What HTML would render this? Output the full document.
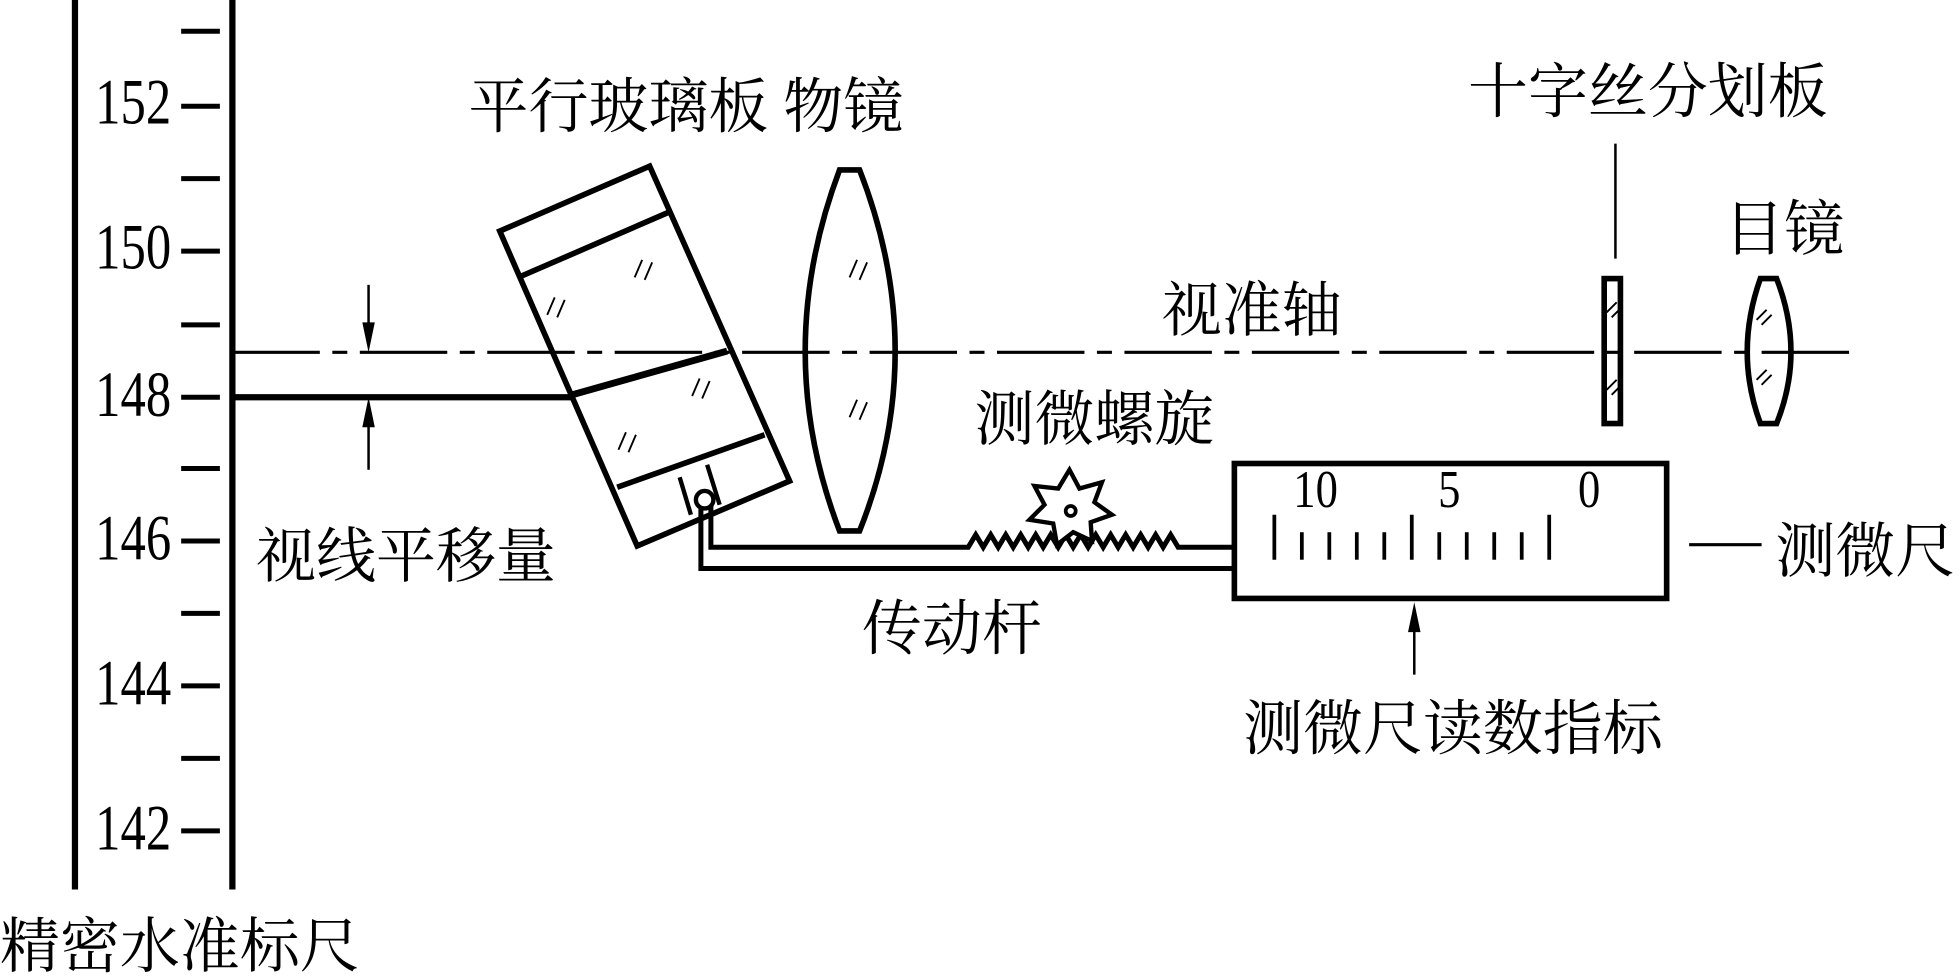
<!DOCTYPE html>
<html><head><meta charset="utf-8"><style>
html,body{margin:0;padding:0;background:#fff;}
svg{display:block;}
text{font-family:"Liberation Serif","Noto Serif CJK SC",serif;fill:#000;}
</style></head><body>
<svg width="1959" height="977" viewBox="0 0 1568 782" xmlns="http://www.w3.org/2000/svg">
<g stroke="#000" fill="none">
<line x1="60" y1="0" x2="60" y2="712" stroke-width="5"/>
<line x1="186" y1="0" x2="186" y2="712" stroke-width="5"/>
<g stroke-width="4">
<line x1="145" y1="25" x2="176" y2="25"/><line x1="145" y1="85" x2="176" y2="85"/>
<line x1="145" y1="143" x2="176" y2="143"/><line x1="145" y1="201" x2="176" y2="201"/>
<line x1="145" y1="260" x2="176" y2="260"/><line x1="145" y1="318" x2="176" y2="318"/>
<line x1="145" y1="375" x2="176" y2="375"/><line x1="145" y1="433" x2="176" y2="433"/>
<line x1="145" y1="491" x2="176" y2="491"/><line x1="145" y1="549" x2="176" y2="549"/>
<line x1="145" y1="607" x2="176" y2="607"/><line x1="145" y1="665" x2="176" y2="665"/>
</g>
<line x1="186" y1="282" x2="1482" y2="282" stroke-width="2.5" stroke-dasharray="70,10,12,10"/>
<line x1="186" y1="318" x2="460" y2="318" stroke-width="5"/>
<line x1="295" y1="228" x2="295" y2="272" stroke-width="2"/>
<line x1="295" y1="328" x2="295" y2="376" stroke-width="2"/>
<polygon points="400,185 520,133 632,385 510,437" stroke-width="4.5"/>
<line x1="415" y1="222" x2="535" y2="170" stroke-width="4.5"/>
<line x1="458" y1="316" x2="582" y2="281" stroke-width="5.5"/>
<line x1="494" y1="390" x2="612" y2="348" stroke-width="4.5"/>
<polyline points="544,382 553,412" stroke-width="3.5"/>
<polyline points="566,372 576,404" stroke-width="3.5"/>
<circle cx="564" cy="400" r="7" stroke-width="3.5" fill="#fff"/>
<g stroke-width="1.5">
<path d="M444,238 l-6,14 M452,240 l-6,14 M514,208 l-6,14 M522,210 l-6,14 M560,303 l-6,14 M568,305 l-6,14 M501,346 l-6,14 M509,348 l-6,14 M686,208 l-6,14 M694,210 l-6,14 M686,320 l-6,14 M694,322 l-6,14"/>
<path d="M1286,250 l8,-8 M1290,254 l8,-8 M1286,312 l8,-8 M1290,316 l8,-8 M1406,256 l8,-8 M1410,260 l8,-8 M1406,304 l8,-8 M1410,308 l8,-8"/>
</g>
<polyline points="569,405 569,438 775,438 781,428 787,438 793,428 799,438 805,428 811,438 817,428 823,438 829,428 835,438 841,428 847,438 853,428 859,438 865,428 871,438 877,428 883,438 889,428 895,438 901,428 907,438 913,428 919,438 925,428 931,438 937,428 943,438 988,438" stroke-width="4"/>
<polyline points="561,407 561,455 988,455" stroke-width="4"/>
<polygon points="856,376 864,391 882,386 876,402 890,412 873,418 874,433 859,426 846,436 843,419 824,416 836,404 828,389 847,391" stroke-width="3.5" fill="#fff"/>
<circle cx="857" cy="409" r="4" stroke-width="3"/>
<path d="M672,136 L688,136 Q745,282 688,425 L672,425 Q617,282 672,136 Z" stroke-width="4.5"/>
<rect x="1284" y="223" width="13" height="116" stroke-width="4.5"/>
<line x1="1293" y1="115" x2="1293" y2="207" stroke-width="2"/>
<path d="M1409,223 L1422,223 Q1445,282 1422,339 L1409,339 Q1388,282 1409,223 Z" stroke-width="4.5"/>
<rect x="988" y="371" width="346" height="108" stroke-width="4.5"/>
<g stroke-width="3">
<line x1="1020" y1="412" x2="1020" y2="448"/><line x1="1042" y1="426" x2="1042" y2="448"/>
<line x1="1064" y1="426" x2="1064" y2="448"/><line x1="1086" y1="426" x2="1086" y2="448"/>
<line x1="1108" y1="426" x2="1108" y2="448"/><line x1="1130" y1="412" x2="1130" y2="448"/>
<line x1="1152" y1="426" x2="1152" y2="448"/><line x1="1174" y1="426" x2="1174" y2="448"/>
<line x1="1196" y1="426" x2="1196" y2="448"/><line x1="1218" y1="426" x2="1218" y2="448"/>
<line x1="1240" y1="412" x2="1240" y2="448"/>
</g>
<line x1="1352" y1="436" x2="1410" y2="436" stroke-width="2.5"/>
<line x1="1132" y1="492" x2="1132" y2="540" stroke-width="2"/>
</g>
<g fill="#000">
<polygon points="290,258 300,258 295,282"/>
<polygon points="290,342 300,342 295,318"/>
<polygon points="1127,506 1137,506 1132,482"/>
</g>
<g font-size="52" text-anchor="end">
<text transform="translate(137,99) scale(0.78,1)">152</text>
<text transform="translate(137,215) scale(0.78,1)">150</text>
<text transform="translate(137,333) scale(0.78,1)">148</text>
<text transform="translate(137,448) scale(0.78,1)">146</text>
<text transform="translate(137,564) scale(0.78,1)">144</text>
<text transform="translate(137,680) scale(0.78,1)">142</text>
</g>
<g font-size="42" text-anchor="middle">
<text transform="translate(1053,406) scale(0.85,1)">10</text>
<text transform="translate(1160,406) scale(0.85,1)">5</text>
<text transform="translate(1272,406) scale(0.85,1)">0</text>
</g>
<g font-size="48">
<text x="375" y="102">平行玻璃板 物镜</text>
<text x="1175" y="90">十字丝分划板</text>
<text x="1380" y="200">目镜</text>
<text x="930" y="265">视准轴</text>
<text x="780" y="352">测微螺旋</text>
<text x="205" y="462">视线平移量</text>
<text x="1421" y="458">测微尺</text>
<text x="690" y="520">传动杆</text>
<text x="995" y="600">测微尺读数指标</text>
<text x="0" y="774">精密水准标尺</text>
</g>
</svg>
</body></html>
